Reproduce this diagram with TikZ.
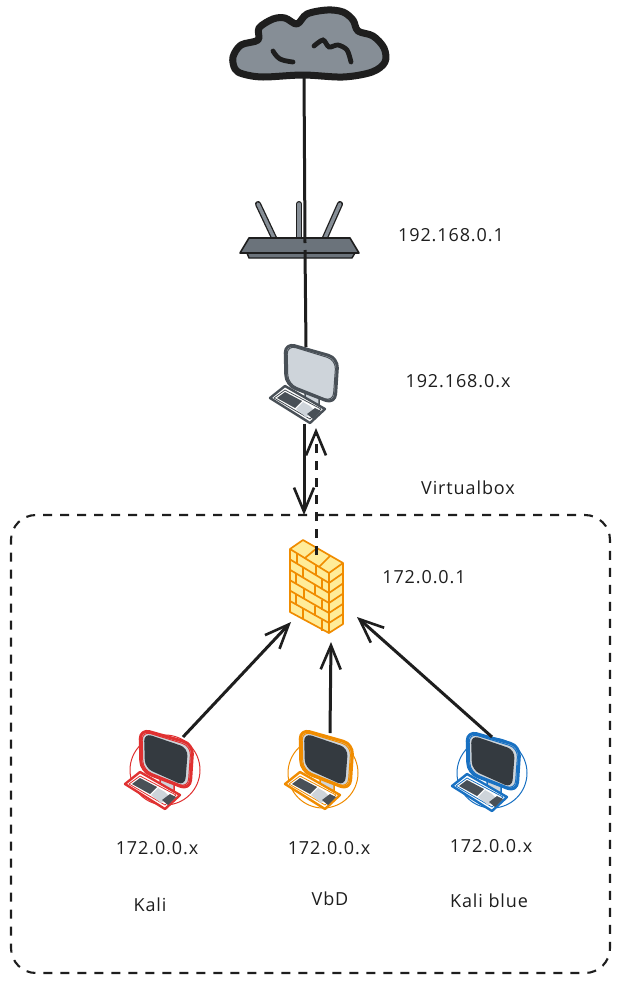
\documentclass[tikz,border=0pt]{standalone}
\usepackage{fontspec}
\setmainfont[LetterSpace=5]{Open Sans}
\usetikzlibrary{arrows.meta}
\definecolor{ink}{HTML}{1E1E1E}
\definecolor{cloudgrey}{HTML}{868E96}
\definecolor{routerdark}{HTML}{6B737B}
\definecolor{screendark}{HTML}{343A40}
\definecolor{keydark}{HTML}{495057}
\definecolor{bezel}{HTML}{CED4DA}
\definecolor{kali}{HTML}{E03131}
\definecolor{vbd}{HTML}{F08C00}
\definecolor{kblue}{HTML}{1971C2}
\definecolor{brick}{HTML}{FFEC99}
\tikzset{
  lbl/.style={font=\fontsize{18}{20}\selectfont, text=ink, inner sep=0pt},
  conn/.style={draw=ink, line width=3pt},
  arrowconn/.style={conn, -{Straight Barb[length=24pt,width=20pt,line width=2.6pt]}},
  dashconn/.style={draw=ink, line width=3pt, dash pattern=on 9pt off 8pt, -{Straight Barb[length=24pt,width=20pt,line width=2.6pt,sep=0pt]}},
  boxline/.style={draw=ink, line width=2.1pt, dash pattern=on 9pt off 8pt, rounded corners=25pt},
  brickline/.style={draw=vbd, line width=1.7pt, line join=round},
}
% #1 x shift, #2 y shift, #3 outline, #4 screen fill
\newcommand{\computerpic}[4]{%
\begin{scope}[xshift=#1pt,yshift=-#2pt,line join=round]
  \draw[#3,line width=1.5pt,fill=bezel] (160,778) -- (174,783) -- (174,791) -- (160,787) -- cycle;
  \draw[#3,line width=2.4pt,fill=white] (125,784) -- (140,772) -- (180,795) -- (165,809) -- cycle;
  \draw[#3,line width=.8pt] (129,784) -- (140,776) -- (176,795) -- (165,805) -- cycle;
  \fill[keydark] (132,784) -- (140,778) -- (157,787) -- (150,794) -- cycle;
  \fill[bezel] (151,795) -- (158,788) -- (165,792) -- (170,797) -- (161,803) -- cycle;
  \fill[keydark] (162,800) -- (170,794) -- (176,797) -- (168,805) -- cycle;
  \draw[#3,line width=3pt,fill=bezel,rounded corners=10pt] (140,729) -- (193,744) -- (190,790) -- (141,771) -- cycle;
  \draw[#3,line width=1pt,rounded corners=9pt] (142,731) -- (191,746) -- (188,788) -- (143,770) -- cycle;
  \fill[#4,rounded corners=8pt] (144,733) -- (188,748) -- (185,786) -- (145,768) -- cycle;
\end{scope}}
\begin{document}
\begin{tikzpicture}[x=1pt,y=-1pt]
\useasboundingbox[fill=white] (0,0) rectangle (619,983);

% Virtualbox frame
\coordinate (boxtop) at (304,515);
\draw[boxline] (boxtop) -- (610,515) -- (610,973) -- (11,973) -- (11,515) -- cycle;

% Cloud
\draw[ink,line width=7pt,fill=cloudgrey,line join=round]
  plot[smooth cycle,tension=.55] coordinates {(235,69)(233,57)(241,45)(258,40)(259,28)(273,19)(285,18)(297,24)(307,14)(327,10)(343,12)(353,20)(358,31)(373,36)(384,48)(385,62)(372,72)(343,77)(303,75)(263,77)(243,74)};
\draw[ink,line width=4.8pt,line cap=round] plot[smooth,tension=.7] coordinates {(273,51)(280,59)(293,62)};
\draw[ink,line width=4.8pt,line cap=round] plot[smooth,tension=.5] coordinates {(314,46)(323,40)(329,47)(338,45)(347,50)(351,62)};
\coordinate (cloud) at (304,75);

% Router
\foreach \a/\b in {258/275,299/299,340/324}{
  \draw[ink,line width=6pt,line cap=round] (\a,204) -- (\b,240);
  \draw[cloudgrey,line width=3.4pt,line cap=round] (\a,204) -- (\b,240);
}
\draw[ink,line width=1.4pt,fill=routerdark,line join=round] (247,253) -- (249,258) -- (352,258) -- (355,253) -- cycle;
\draw[ink,line width=1.6pt,fill=routerdark,line join=round] (249,238) -- (350,238) -- (359,253) -- (240,253) -- cycle;
\draw[ink,line width=2pt] (240,253) -- (359,253);
\coordinate (router) at (305,243);
\coordinate (routerlow) at (305,250);

% Host computer
\computerpic{145}{-386}{keydark}{bezel}
\coordinate (hosttop) at (306,347);
\coordinate (hostlow) at (304,424);
\coordinate (hostin) at (316,428);

% Firewall
\coordinate (fwtop) at (316,555);
\draw[brickline,fill=brick] (303,540) -- (343,563) -- (343,624) -- (329,633) -- (290,612) -- (290,549) -- cycle;
\draw[brickline] (290,549) -- (329,573) -- (343,563) (329,573) -- (329,633);
\draw[brickline] (317,548) -- (305,558) (330,556) -- (319,567);
\foreach \k in {1,...,5}{
  \draw[brickline] (290,{549+\k*10.4}) -- (329,{573+\k*10});
  \draw[brickline] (329,{573+\k*10}) -- (343,{563+\k*10.2});
}
\foreach \xa/\rr in {297/0,316/0,303/1,322/1,296/2,315/2,304/3,322/3,296/4,315/4,303/5,322/5}{
  \pgfmathsetmacro{\fy}{549+(\xa-290)*24/39+\rr*10.3}
  \draw[brickline] (\xa,\fy) -- (\xa,\fy+10.3);
}
\coordinate (fwleft) at (291,622);
\coordinate (fwbot) at (331,642);
\coordinate (fwright) at (357,617);

% Guest computers
\draw[kali,line width=1pt] (165,770) circle[radius=35pt];
\computerpic{0}{0}{kali}{screendark}
\draw[vbd,line width=1pt] (323,773) circle[radius=35pt];
\computerpic{160}{0}{vbd}{screendark}
\draw[kblue,line width=1pt] (492,773) circle[radius=35pt];
\computerpic{327}{2}{kblue}{screendark}
\coordinate (pca) at (183,737);
\coordinate (pcb) at (330,733);
\coordinate (pcc) at (492,737);

% Connectors
\draw[conn] (cloud) -- (router);
\draw[conn] (routerlow) -- (hosttop);
\draw[arrowconn] (hostlow) -- (boxtop);
\draw[dashconn] (fwtop) -- (hostin);
\draw[arrowconn] (pca) -- (fwleft);
\draw[arrowconn] (pcb) -- (fwbot);
\draw[arrowconn] (pcc) -- (fwright);

% Labels
\node[lbl] (l1) at (451,235) {192.168.0.1};
\node[lbl] (l2) at (458,381) {192.168.0.x};
\node[lbl] (l3) at (468,488) {Virtualbox};
\node[lbl] (l4) at (424,577) {172.0.0.1};
\node[lbl] (l5) at (157,848) {172.0.0.x};
\node[lbl] (l6) at (329,848) {172.0.0.x};
\node[lbl] (l7) at (491,846) {172.0.0.x};
\node[lbl] (l8) at (150,905) {Kali};
\node[lbl] (l9) at (330,899) {VbD};
\node[lbl] (l10) at (489,901) {Kali blue};
\end{tikzpicture}
\end{document}
